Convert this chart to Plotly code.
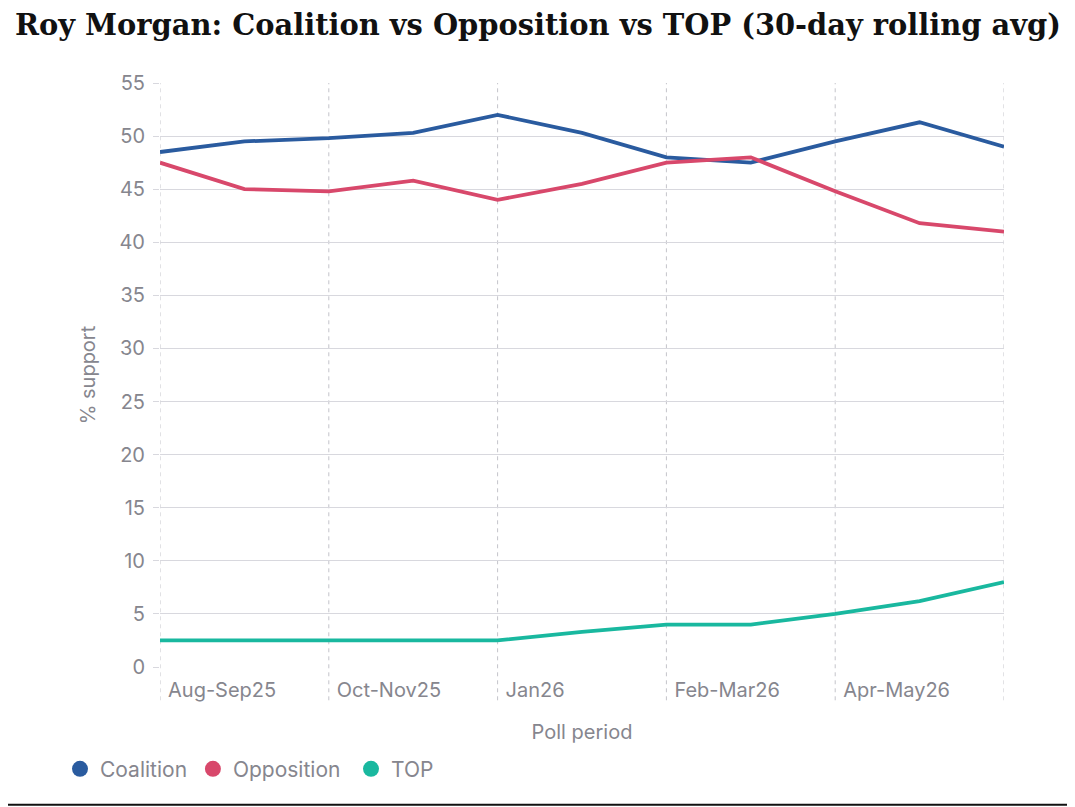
import plotly.graph_objects as go

# values (11 poll points, rolling avg)
coalition = [48.5, 49.5, 49.8, 50.3, 52.0, 50.3, 48.0, 47.5, 49.5, 51.3, 49.0]
opposition = [47.5, 45.0, 44.8, 45.8, 44.0, 45.5, 47.5, 48.0, 44.8, 41.8, 41.0]
top_party = [2.5, 2.5, 2.5, 2.5, 2.5, 3.3, 4.0, 4.0, 5.0, 6.2, 8.0]

tick_pos = [0, 2, 4, 6, 8, 10]
tick_labels = ['Aug-Sep25', 'Oct-Nov25', 'Jan26', 'Feb-Mar26', 'Apr-May26', '']

series = [
    ('Coalition', coalition, '#2a5b9f'),
    ('Opposition', opposition, '#d8486b'),
    ('TOP', top_party, '#19b89f'),
]

grey = '#86868e'
grid = '#d8d8de'
font = 'Inter, Open Sans, sans-serif'

fig = go.Figure()
for name, vals, color in series:
    fig.add_trace(go.Scatter(
        x=list(range(len(vals))), y=vals, mode='lines', name=name,
        line=dict(color=color, width=3.8), showlegend=False,
    ))

# legend entries drawn as round dots, one small legend per entry
legend_x = [-0.1185, 0.039, 0.2263]
legend_ids = ['legend', 'legend2', 'legend3']
for (name, vals, color), lid in zip(series, legend_ids):
    fig.add_trace(go.Scatter(
        x=[None], y=[None], mode='markers', name=name, legend=lid,
        marker=dict(color=color, size=16, symbol='circle'),
    ))

shapes = []
for p in tick_pos:
    shapes.append(dict(
        type='line', xref='x', yref='paper', x0=p, x1=p, y0=-0.057, y1=1,
        line=dict(color='#c4c4ca', width=1, dash='4px,4px'), layer='below',
    ))
shapes.append(dict(
    type='line', xref='paper', yref='paper', x0=-0.2, x1=1.1, y0=-0.236, y1=-0.236,
    line=dict(color='#111111', width=2),
))

legends = {}
for lid, lx in zip(legend_ids, legend_x):
    legends[lid] = dict(
        orientation='h', x=lx, xanchor='left', y=-0.175, yanchor='middle',
        font=dict(size=21, color=grey), itemwidth=30, bgcolor='rgba(0,0,0,0)',
    )

fig.update_layout(
    width=1075, height=807,
    margin=dict(l=152, r=79, t=75, b=148),
    plot_bgcolor='white', paper_bgcolor='white',
    font=dict(family=font, color=grey, size=20),
    title=dict(
        text='<b>Roy Morgan: Coalition vs Opposition vs TOP (30-day rolling avg)</b>',
        x=7 / 1075, xanchor='left', y=1 - 17 / 807, yanchor='middle',
        font=dict(family='DejaVu Serif, Liberation Serif, serif', size=28.9, color='#111111'),
    ),
    xaxis=dict(
        range=[0, 10], tickvals=tick_pos, ticktext=tick_labels,
        showgrid=False, zeroline=False, showline=False,
        ticks='', ticklabelposition='outside right', ticklabelshift=8,
        ticklabelstandoff=9,
        title=dict(text='Poll period', standoff=23, font=dict(size=20, color=grey)),
        tickfont=dict(size=20, color=grey),
    ),
    yaxis=dict(
        range=[0, 55], dtick=5, showgrid=True, gridcolor=grid, gridwidth=1,
        zeroline=False, ticks='outside', ticklen=6, tickcolor=grid,
        ticklabelstandoff=4,
        title=dict(text='% support', standoff=18, font=dict(size=20, color=grey)),
        tickfont=dict(size=20, color=grey),
    ),
    shapes=shapes,
    **legends,
)

fig.write_html('out.html')
